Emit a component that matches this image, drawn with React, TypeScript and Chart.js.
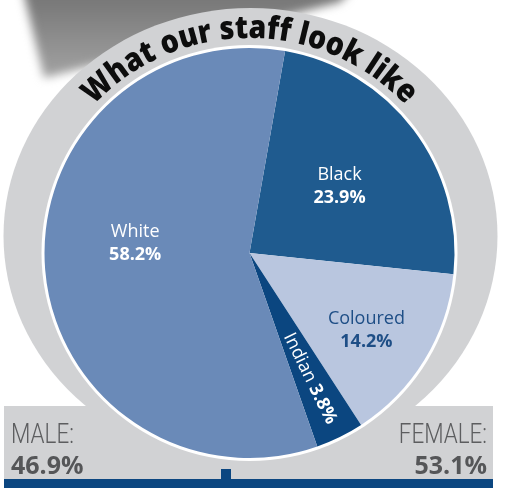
import React, { useEffect, useRef } from 'react';
import { Chart, registerables } from 'chart.js';

Chart.register(...registerables);

// ---- data ----
const categories = ['Black', 'Coloured', 'Indian', 'White'];
const shares = [23.9, 14.2, 3.8, 58.2];
const genderLabels = ['MALE:', 'FEMALE:'];
const genderShares = [46.9, 53.1];
const titleText = 'What our staff look like';

// ---- styles ----
const W = 506;
const H = 496;
const SLICE_COLORS: Record<string, string> = {
  Black: '#1f5b8f',
  Coloured: '#b9c6df',
  Indian: '#0b4680',
  White: '#6a8ab8',
};
const RING = '#d1d2d4';
const BAR = '#0b4680';
const LABEL_STYLE: Record<string, { rf: number; nudge: number; color: string; rotate: boolean }> = {
  Black: { rf: 0.55, nudge: 0, color: '#ffffff', rotate: false },
  Coloured: { rf: 0.68, nudge: 1.5, color: '#1e4e86', rotate: false },
  Indian: { rf: 0.68, nudge: 0, color: '#ffffff', rotate: true },
  White: { rf: 0.56, nudge: 10, color: '#ffffff', rotate: false },
};
const BOX = { left: 4, right: 493, top: 406, bottom: 479, bar: 9, notchX: 221, notchW: 10, notchH: 10 };
const LABEL_FONT = '"Open Sans", "DejaVu Sans", sans-serif';

const deg = (d: number) => (d * Math.PI) / 180;

const decorPlugin = {
  id: 'decor',
  beforeDraw(chart: any) {
    const ctx: CanvasRenderingContext2D = chart.ctx;
    const arc = chart.getDatasetMeta(0).data[0];
    if (!arc) return;
    const cx = arc.x;
    const cy = arc.y;
    const R = arc.outerRadius;
    ctx.save();
    ctx.fillStyle = '#ffffff';
    ctx.fillRect(0, 0, W, H);

    // soft shadow at top-left
    ctx.save();
    ctx.filter = 'blur(5px)';
    const g = ctx.createLinearGradient(0, 0, 0, 80);
    g.addColorStop(0, '#787878');
    g.addColorStop(1, '#a4a4a4');
    ctx.fillStyle = g;
    ctx.beginPath();
    ctx.moveTo(18, -30);
    ctx.lineTo(370, -30);
    ctx.lineTo(340, 2);
    ctx.lineTo(44, 78);
    ctx.closePath();
    ctx.fill();
    ctx.restore();

    // grey ring
    ctx.fillStyle = RING;
    ctx.beginPath();
    ctx.ellipse(cx + 1, cy - 17, R + 42, R + 23, 0, 0, Math.PI * 2);
    ctx.fill();

    // bottom box
    ctx.fillRect(BOX.left, BOX.top, BOX.right - BOX.left, BOX.bottom - BOX.top);
    ctx.fillStyle = BAR;
    ctx.fillRect(BOX.left, BOX.bottom, BOX.right - BOX.left, BOX.bar);
    ctx.fillRect(BOX.notchX, BOX.bottom - BOX.notchH, BOX.notchW, BOX.notchH + 1);

    // white rim behind pie
    ctx.fillStyle = '#ffffff';
    ctx.beginPath();
    ctx.arc(cx, cy, R + 3, 0, Math.PI * 2);
    ctx.fill();
    ctx.restore();
  },
  afterDraw(chart: any) {
    const ctx: CanvasRenderingContext2D = chart.ctx;
    const meta = chart.getDatasetMeta(0);
    const first = meta.data[0];
    if (!first) return;
    const cx = first.x;
    const cy = first.y;
    const R = first.outerRadius;

    ctx.save();
    // slice labels
    meta.data.forEach((el: any, i: number) => {
      const name = categories[i];
      const st = LABEL_STYLE[name];
      const mid = (el.startAngle + el.endAngle) / 2 + deg(st.nudge);
      const r = R * st.rf;
      const px = cx + Math.cos(mid) * r;
      const py = cy + Math.sin(mid) * r;
      const valueText = shares[i].toFixed(1) + '%';
      ctx.fillStyle = st.color;
      if (st.rotate) {
        ctx.save();
        ctx.translate(px, py);
        ctx.rotate((el.startAngle + el.endAngle) / 2);
        ctx.textBaseline = 'middle';
        ctx.textAlign = 'left';
        ctx.font = `500 18px ${LABEL_FONT}`;
        const a = name + ' ';
        const wa = ctx.measureText(a).width;
        ctx.font = `bold 18px ${LABEL_FONT}`;
        const wb = ctx.measureText(valueText).width;
        const x0 = -(wa + wb) / 2;
        ctx.font = `500 18px ${LABEL_FONT}`;
        ctx.fillText(a, x0, 1);
        ctx.font = `bold 18px ${LABEL_FONT}`;
        ctx.fillText(valueText, x0 + wa, 1);
        ctx.restore();
      } else {
        ctx.textAlign = 'center';
        ctx.textBaseline = 'alphabetic';
        ctx.font = `500 18px ${LABEL_FONT}`;
        ctx.fillText(name, px, py - 5);
        ctx.font = `bold 18px ${LABEL_FONT}`;
        ctx.fillText(valueText, px, py + 18);
      }
    });

    // curved title
    ctx.fillStyle = '#0d0d0d';
    ctx.font = `800 32px ${LABEL_FONT}`;
    ctx.textAlign = 'center';
    ctx.textBaseline = 'alphabetic';
    const rBase = R + 10;
    const span = deg(93);
    const natural = ctx.measureText(titleText).width;
    const target = span * rBase;
    const sx = Math.min(1, target / natural);
    const spread = target / (natural * sx);
    const start = -span / 2;
    for (let i = 0; i < titleText.length; i++) {
      const ch = titleText[i];
      if (ch === ' ') continue;
      const w0 = ctx.measureText(titleText.slice(0, i)).width;
      const w1 = ctx.measureText(titleText.slice(0, i + 1)).width;
      const a = start + (((w0 + w1) / 2) * sx * spread) / rBase;
      ctx.save();
      ctx.translate(cx + Math.sin(a) * rBase, cy - Math.cos(a) * rBase);
      ctx.rotate(a);
      ctx.scale(sx, 1);
      ctx.fillText(ch, 0, 0);
      ctx.restore();
    }

    // gender captions
    const drawSide = (label: string, value: number, right: boolean) => {
      const x = right ? BOX.right - 6 : BOX.left + 7;
      ctx.textAlign = right ? 'right' : 'left';
      ctx.fillStyle = '#5c5d5f';
      ctx.save();
      ctx.translate(x, BOX.top + 37);
      ctx.scale(0.8, 1);
      ctx.font = '300 28px Roboto, "Open Sans", sans-serif';
      ctx.fillText(label, 0, 0);
      ctx.restore();
      ctx.fillStyle = '#555658';
      ctx.font = `bold 25px ${LABEL_FONT}`;
      ctx.fillText(value.toFixed(1) + '%', x, BOX.top + 68);
    };
    drawSide(genderLabels[0], genderShares[0], false);
    drawSide(genderLabels[1], genderShares[1], true);
    ctx.restore();
  },
};

export default function App() {
  const ref = useRef<HTMLCanvasElement | null>(null);
  useEffect(() => {
    if (!ref.current) return;
    const chart = new Chart(ref.current, {
      type: 'pie',
      data: {
        labels: categories,
        datasets: [
          {
            data: shares,
            backgroundColor: categories.map((c) => SLICE_COLORS[c]),
            borderWidth: 0,
            hoverOffset: 0,
          },
        ],
      },
      options: {
        responsive: false,
        animation: false,
        rotation: 10,
        layout: { padding: { left: 44.5, right: 51.5, top: 48, bottom: 38 } },
        plugins: {
          legend: { display: false },
          tooltip: { enabled: false },
          title: { display: false },
        },
        events: [],
      },
      plugins: [decorPlugin],
    });
    return () => chart.destroy();
  }, []);
  return (
    <div style={{ position: 'fixed', left: 0, top: 0, width: W, height: H, background: '#fff' }}>
      <canvas ref={ref} width={W} height={H} style={{ display: 'block', width: W, height: H }} />
    </div>
  );
}
